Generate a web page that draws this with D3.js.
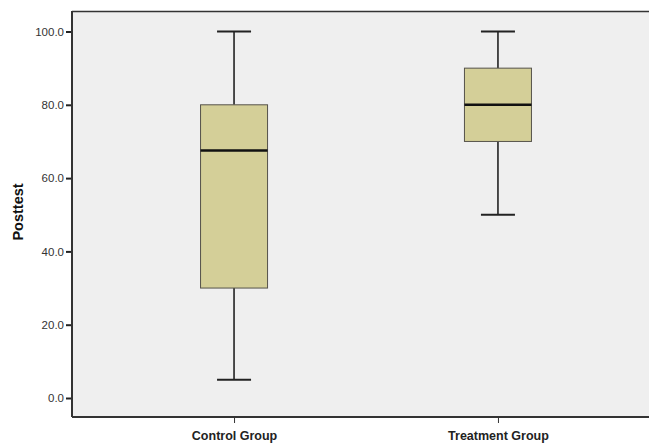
<!DOCTYPE html>
<html>
<head>
<meta charset="utf-8">
<script src="https://cdn.jsdelivr.net/npm/d3@7"></script>
<style>
	body { margin: 0; background: #fff; }
	svg { display: block; font-family: Arial, "Liberation Sans", sans-serif; }
</style>
</head>
<body>
<div id="chart"></div>
<script>
// Group names and five-number summaries
const groups = ['Control Group', 'Treatment Group'];
const whiskerLow = [5, 50];
const q1 = [30, 70];
const median = [67.5, 80];
const q3 = [80, 90];
const whiskerHigh = [100, 100];
const yTicks = [0, 20, 40, 60, 80, 100];

const width = 649;
const height = 444;
const margin = { top: 11, right: 0, bottom: 27, left: 72 };

const svg = d3
	.select('#chart')
	.append('svg')
	.attr('width', width)
	.attr('height', height);

// Scales
const x = d3.scalePoint().domain(groups).range([margin.left, 660]).padding(0.614);
const y = d3.scaleLinear().domain([0, 100]).range([398, 31.5]);

const plotBottom = 417;

// Plot background
svg.append('rect')
	.attr('x', margin.left)
	.attr('y', margin.top)
	.attr('width', 660 - margin.left)
	.attr('height', plotBottom - margin.top)
	.attr('fill', '#efefef');

// Boxes
const boxW = 67;
const capW = 34;
groups.forEach((g, i) => {
	const cx = x(g);
	// whiskers
	svg.append('line')
		.attr('x1', cx).attr('x2', cx)
		.attr('y1', y(whiskerHigh[i])).attr('y2', y(q3[i]))
		.attr('stroke', '#222').attr('stroke-width', 1.6);
	svg.append('line')
		.attr('x1', cx).attr('x2', cx)
		.attr('y1', y(q1[i])).attr('y2', y(whiskerLow[i]))
		.attr('stroke', '#222').attr('stroke-width', 1.6);
	// caps
	[whiskerHigh[i], whiskerLow[i]].forEach((v) => {
		svg.append('line')
			.attr('x1', cx - capW / 2).attr('x2', cx + capW / 2)
			.attr('y1', y(v)).attr('y2', y(v))
			.attr('stroke', '#222').attr('stroke-width', 2);
	});
	// box
	svg.append('rect')
		.attr('x', cx - boxW / 2)
		.attr('y', y(q3[i]))
		.attr('width', boxW)
		.attr('height', y(q1[i]) - y(q3[i]))
		.attr('fill', '#d4cf98')
		.attr('stroke', '#55524a')
		.attr('stroke-width', 1);
	// median
	svg.append('line')
		.attr('x1', cx - boxW / 2).attr('x2', cx + boxW / 2)
		.attr('y1', y(median[i])).attr('y2', y(median[i]))
		.attr('stroke', '#111').attr('stroke-width', 2.5);
});

// Top frame line
svg.append('line')
	.attr('x1', margin.left).attr('x2', width)
	.attr('y1', margin.top + 0.5).attr('y2', margin.top + 0.5)
	.attr('stroke', '#333').attr('stroke-width', 1.5);

// Y axis
const yAxis = svg.append('g')
	.attr('transform', `translate(${margin.left},0)`)
	.call(d3.axisLeft(y).tickValues(yTicks).tickFormat(d3.format('.1f')).tickSize(6).tickSizeOuter(0));
yAxis.select('.domain').remove();
yAxis.append('line')
	.attr('x1', 0).attr('x2', 0)
	.attr('y1', margin.top).attr('y2', plotBottom)
	.attr('stroke', '#333').attr('stroke-width', 2);
yAxis.selectAll('.tick line').attr('stroke', '#222').attr('stroke-width', 2);
yAxis.selectAll('.tick text')
	.attr('x', -8)
	.attr('fill', '#333')
	.style('font-size', '11.5px');

// X axis
const xAxis = svg.append('g')
	.attr('transform', `translate(0,${plotBottom})`)
	.call(d3.axisBottom(x).tickSize(6).tickSizeOuter(0));
xAxis.select('.domain').remove();
xAxis.append('line')
	.attr('x1', margin.left).attr('x2', width)
	.attr('y1', 0).attr('y2', 0)
	.attr('stroke', '#333').attr('stroke-width', 2);
xAxis.selectAll('.tick line').attr('stroke', '#333').attr('stroke-width', 1);
xAxis.selectAll('.tick text')
	.attr('y', 14)
	.attr('fill', '#222')
	.style('font-size', '12.5px')
	.style('font-weight', 'bold');

// Y axis title
svg.append('text')
	.attr('transform', 'translate(23,212) rotate(-90)')
	.attr('text-anchor', 'middle')
	.attr('fill', '#111')
	.style('font-size', '14.5px')
	.style('font-weight', 'bold')
	.text('Posttest');
</script>
</body>
</html>
